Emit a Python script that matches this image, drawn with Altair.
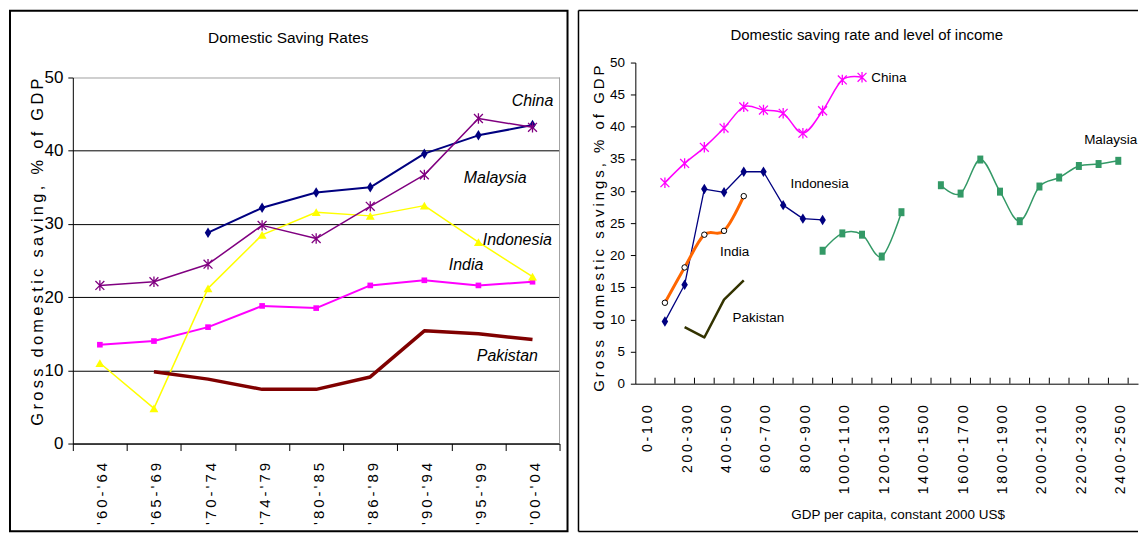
import altair as alt
import pandas as pd

# ---------------- left panel: saving rate by period ----------------
periods = ["'60-'64", "'65-'69", "'70-'74", "'74-'79", "'80-'85",
           "'86-'89", "'90-'94", "'95-'99", "'00-'04"]
china_l = [None, None, 28.8, 32.2, 34.3, 35.0, 39.6, 42.1, 43.5]
india_l = [13.5, 14.0, 15.9, 18.8, 18.5, 21.6, 22.3, 21.6, 22.1]
indonesia_l = [11.0, 4.8, 21.2, 28.5, 31.6, 31.1, 32.5, 27.5, 22.8]
malaysia_l = [21.6, 22.1, 24.5, 29.8, 28.0, 32.4, 36.7, 44.4, 43.2]
pakistan_l = [None, 9.8, 8.8, 7.4, 7.4, 9.1, 15.4, 15.0, 14.2]
left_ticks = [0, 10, 20, 30, 40, 50]

# ---------------- right panel: saving rate by income level ----------------
income_bins = ["0-100", "100-200", "200-300", "300-400", "400-500", "500-600",
               "600-700", "700-800", "800-900", "900-1000", "1000-1100",
               "1100-1200", "1200-1300", "1300-1400", "1400-1500", "1500-1600",
               "1600-1700", "1700-1800", "1800-1900", "1900-2000", "2000-2100",
               "2100-2200", "2200-2300", "2300-2400", "2400-2500"]
shown_bins = ["0-100", "200-300", "400-500", "600-700", "800-900", "1000-1100",
              "1200-1300", "1400-1500", "1600-1700", "1800-1900", "2000-2100",
              "2200-2300", "2400-2500"]
N = None
china_r = [N, 31.3, 34.3, 36.8, 39.8, 43.1, 42.6, 42.1, 39.0, 42.5, 47.3, 47.7,
           N, N, N, N, N, N, N, N, N, N, N, N, N]
indonesia_r = [N, 9.7, 15.4, 30.3, 29.8, 33.0, 33.0, 27.8, 25.7, 25.5,
               N, N, N, N, N, N, N, N, N, N, N, N, N, N, N]
india_r = [N, 12.6, 18.1, 23.2, 23.8, 29.2,
           N, N, N, N, N, N, N, N, N, N, N, N, N, N, N, N, N, N, N]
pakistan_r = [N, N, 8.8, 7.2, 13.1, 16.1,
              N, N, N, N, N, N, N, N, N, N, N, N, N, N, N, N, N, N, N]
malaysia_r = [N, N, N, N, N, N, N, N, N, 20.7, 23.4, 23.2, 19.8, 26.7, N,
              30.9, 29.6, 34.9, 29.9, 25.3, 30.7, 32.1, 33.9, 34.2, 34.7]
right_ticks = [0, 5, 10, 15, 20, 25, 30, 35, 40, 45, 50]

FONT = "Liberation Sans, Arial, sans-serif"
TS = "\u2009"  # thin space used to spread rotated text


def to_df(cats, vals):
    rows, seg, gap = [], 0, True
    for c, v in zip(cats, vals):
        if v is None:
            if not gap:
                seg += 1
            gap = True
            continue
        rows.append({"cat": c, "val": v, "seg": seg})
        gap = False
    return pd.DataFrame(rows)


def text(t, x, y, size, italic=False, angle=0, align="left"):
    return alt.Chart(pd.DataFrame({"t": [t]})).mark_text(
        align=align, baseline="middle", font=FONT, fontSize=size,
        fontStyle="italic" if italic else "normal", angle=angle, color="black"
    ).encode(text="t:N", x=alt.value(x), y=alt.value(y))


spread_expr = "replace(datum.label, regexp('(.)(?=.)', 'g'), '$1" + TS + "')"

one = pd.DataFrame({"t": [0]})

# ---------------- left chart ----------------
# both panels share the same view origin; the left y range starts lower
LW, LH, LTOP = 488, 382, 15
xl = alt.X("cat:N", sort=periods, bandPosition=0.5,
           scale=alt.Scale(type="band", domain=periods, paddingInner=0, paddingOuter=0),
           axis=alt.Axis(title=None, labelAngle=270, labelAlign="right",
                         labelBaseline="middle", labelFont=FONT, labelFontSize=15,
                         labelColor="black", labelPadding=12, tickBand="extent",
                         tickSize=7, tickColor="black", domainColor="black",
                         labelOverlap=False, labelOffset=2, grid=False,
                         labelExpr=spread_expr))
yl = alt.Y("val:Q", scale=alt.Scale(domain=[0, 50], nice=False, range=[LH, LTOP]),
           axis=alt.Axis(title=None, values=left_ticks, labelFont=FONT,
                         labelFontSize=17, labelColor="black", tickSize=5,
                         labelPadding=5, tickColor="black", domainColor="black",
                         grid=True, gridWidth=1,
                         gridColor={"condition": {"test": "datum.value == 50",
                                                  "value": "#a0a0a0"},
                                    "value": "black"}))


def series(df, x, y, color, width, point=None, interpolate="linear"):
    layers = [alt.Chart(df).mark_line(color=color, strokeWidth=width,
                                      interpolate=interpolate, strokeJoin="round")
              .encode(x=x, y=y, detail="seg:N")]
    if point is not None:
        layers.append(alt.Chart(df).mark_point(opacity=1, **point).encode(x=x, y=y))
    return layers


DIAMOND = "M0,-1L0.62,0L0,1L-0.62,0Z"
STAR = "M0,-1L0,1M-0.85,-0.85L0.85,0.85M-0.85,0.85L0.85,-0.85"
TALLSQ = "M-0.75,-1L0.75,-1L0.75,1L-0.75,1Z"

left_layers = [
    alt.Chart(one).mark_rect(fill="white", fillOpacity=0, stroke="black",
                             strokeWidth=2).encode(
        x=alt.value(-63), x2=alt.value(496), y=alt.value(-52), y2=alt.value(470)),
    alt.Chart(one).mark_rule(color="#a0a0a0", strokeWidth=1).encode(
        x=alt.value(LW), y=alt.value(LTOP), y2=alt.value(LH)),
]
left_layers += series(to_df(periods, china_l), xl, yl, "#000080", 2,
                      dict(shape=DIAMOND, filled=True, color="#000080", size=110))
left_layers += series(to_df(periods, india_l), xl, yl, "#FF00FF", 2,
                      dict(shape="square", filled=True, color="#FF00FF", size=32))
left_layers += series(to_df(periods, indonesia_l), xl, yl, "#FFFF00", 1.5,
                      dict(shape="triangle-up", filled=True, color="#FFFF00", size=80))
left_layers += series(to_df(periods, malaysia_l), xl, yl, "#800080", 1.5,
                      dict(shape=STAR, filled=False, color="#800080", size=110,
                           strokeWidth=1.3))
left_layers += series(to_df(periods, pakistan_l), xl, yl, "#800000", 3.5)
left_layers += [
    text("Domestic Saving Rates", 216, -24.5, 15.5, align="center"),
    text(TS.join("Gross domestic saving, % of GDP"), -35, 190, 16.5,
         angle=270, align="center"),
    text("China", 440, 39, 16, italic=True),
    text("Malaysia", 392, 116, 16, italic=True),
    text("Indonesia", 411, 178, 16, italic=True),
    text("India", 377, 203, 16, italic=True),
    text("Pakistan", 405, 294, 16, italic=True),
]
left = alt.layer(*left_layers).properties(
    width=LW, height=LH, view=alt.ViewBackground(stroke="transparent"))

# ---------------- right chart ----------------
RW, RH = 504, 322
xscale_r = alt.Scale(type="band", domain=income_bins, paddingInner=0,
                     paddingOuter=0.25, align=0)
xaxis_r = alt.Axis(title=None, ticks=False, labelAngle=270, labelAlign="right",
                   labelBaseline="middle", labelFont=FONT, labelFontSize=14,
                   labelColor="black", labelPadding=21, labelOffset=3,
                   domainColor="black", labelOverlap=False, grid=False,
                   labelExpr="indexof(" + str(shown_bins).replace("'", '"')
                   + ", datum.value) >= 0 ? " + spread_expr + " : ''")
xr = alt.X("cat:N", sort=income_bins, bandPosition=0.5, scale=xscale_r, axis=xaxis_r)
yr = alt.Y("val:Q", scale=alt.Scale(domain=[0, 50], nice=False),
           axis=alt.Axis(title=None, values=right_ticks, labelFont=FONT,
                         labelFontSize=13.5, labelColor="black", tickSize=5,
                         labelPadding=6, tickColor="black", domainColor="black",
                         grid=False))

right_layers = [
    alt.Chart(one).mark_rule(color="black", strokeWidth=1.5).encode(
        x=alt.value(-57), y=alt.value(-52.25), y2=alt.value(470.25)),
    alt.Chart(one).mark_rule(color="black", strokeWidth=1.5).encode(
        x=alt.value(-57), x2=alt.value(RW), y=alt.value(-52.25)),
    alt.Chart(one).mark_rule(color="black", strokeWidth=1.5).encode(
        x=alt.value(-57), x2=alt.value(RW), y=alt.value(470.25)),
    alt.Chart(pd.DataFrame({"cat": income_bins})).mark_rule(color="black").encode(
        x=alt.X("cat:N", sort=income_bins, bandPosition=1, scale=xscale_r,
                axis=xaxis_r),
        y=alt.value(RH - 6), y2=alt.value(RH)),
]
right_layers += series(to_df(income_bins, china_r), xr, yr, "#FF00FF", 1.5,
                       dict(shape=STAR, filled=False, color="#FF00FF", size=110,
                            strokeWidth=1.3), interpolate="cardinal")
right_layers += series(to_df(income_bins, indonesia_r), xr, yr, "#000080", 1.3,
                       dict(shape=DIAMOND, filled=True, color="#000080", size=110))
right_layers += series(to_df(income_bins, india_r), xr, yr, "#FF6600", 3,
                       dict(shape="circle", filled=True, fill="white", stroke="black",
                            strokeWidth=1, size=30), interpolate="cardinal")
right_layers += series(to_df(income_bins, pakistan_r), xr, yr, "#333300", 2.5)
right_layers += series(to_df(income_bins, malaysia_r), xr, yr, "#339966", 1.5,
                       dict(shape=TALLSQ, filled=True, color="#339966", size=64),
                       interpolate="cardinal")
right_layers += [
    text("Domestic saving rate and level of income", 232, -28, 15, align="center"),
    text(TS.join("Gross domestic savings, % of GDP"), -36.5, 166.5, 15,
         angle=270, align="center"),
    text("GDP per capita, constant 2000 US$", 263.5, 454, 13.5, align="center"),
    text("China", 236.5, 16, 13.5),
    text("Indonesia", 155.5, 122, 13.5),
    text("India", 85, 190, 13.5),
    text("Pakistan", 97.5, 256.5, 13.5),
    text("Malaysia", 450, 78, 13.5),
]
right = alt.layer(*right_layers).properties(
    width=RW, height=RH, view=alt.ViewBackground(stroke="transparent"))

chart = alt.hconcat(left, right, spacing=7).properties(padding=0, background="white")
chart.save("out.html", embed_options={"renderer": "svg", "actions": False})
